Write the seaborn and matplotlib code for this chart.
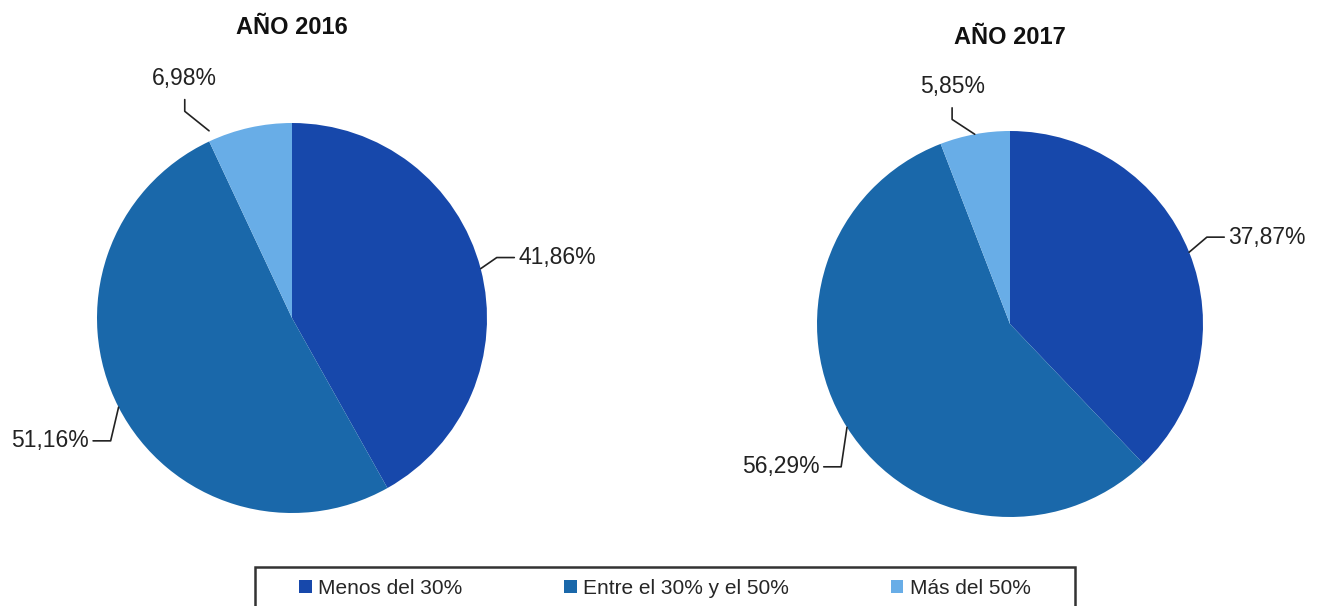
import numpy as np
import matplotlib
matplotlib.use("Agg")
import matplotlib.pyplot as plt
from matplotlib.patches import Patch, Rectangle
import seaborn as sns

# Data
categories = ["Menos del 30%", "Entre el 30% y el 50%", "Más del 50%"]
years = ["AÑO 2016", "AÑO 2017"]
values_2016 = [41.86, 51.16, 6.98]
values_2017 = [37.87, 56.29, 5.85]
colors = ["#1748AB", "#1A68AA", "#68ADE7"]

sns.set_theme(style="white")
plt.rcParams["font.family"] = ["Liberation Sans", "DejaVu Sans"]

W, H = 1325, 606
fig = plt.figure(figsize=(W / 100, H / 100), dpi=100)
fig.patch.set_facecolor("white")


def fmt(v):
    return f"{v:.2f}".replace(".", ",") + "%"


def pie_axes(cx, cy, r):
    ax = fig.add_axes([(cx - r) / W, (H - cy - r) / H, 2 * r / W, 2 * r / H])
    ax.axis("off")
    return ax


# label layout per wedge: (text x, text y, elbow style, anchor angle override)
layouts = [
    [(1.16, 0.31, "h", None), (-1.04, -0.63, "h", None), (-0.55, 1.23, "v", 113.9)],
    [(1.13, 0.45, "h", None), (-0.985, -0.74, "h", None), (-0.30, 1.23, "v", None)],
]
centers = [(292, 318, 195), (1010, 324, 193)]
titles_y = [27, 37]

for i, vals in enumerate([values_2016, values_2017]):
    cx, cy, r = centers[i]
    ax = pie_axes(cx, cy, r)
    wedges, _ = ax.pie(vals, colors=colors, startangle=90, counterclock=False,
                       radius=1, wedgeprops=dict(linewidth=0))
    ax.set_xlim(-1, 1)
    ax.set_ylim(-1, 1)
    for w, v, (tx, ty, style, anch) in zip(wedges, vals, layouts[i]):
        if anch is None:
            ang = np.deg2rad((w.theta1 + w.theta2) / 2)
            ex, ey = np.cos(ang), np.sin(ang)
        else:
            ang = np.deg2rad(anch)
            ex, ey = 1.05 * np.cos(ang), 1.05 * np.sin(ang)
        if style == "h":
            s = 1 if tx > 0 else -1
            pts = [(ex, ey), (tx - s * 0.11, ty), (tx - s * 0.02, ty)]
            ax.plot(*zip(*pts), color="#222222", lw=1.2, clip_on=False)
            ax.text(tx, ty, fmt(v), ha="left" if s > 0 else "right", va="center",
                    fontsize=16.5, color="#222222", clip_on=False)
        else:
            pts = [(ex, ey), (tx, ty - 0.17), (tx, ty - 0.11)]
            ax.plot(*zip(*pts), color="#222222", lw=1.2, clip_on=False)
            ax.text(tx, ty, fmt(v), ha="center", va="center",
                    fontsize=16.5, color="#222222", clip_on=False)
    fig.text(cx / W, 1 - titles_y[i] / H, years[i], ha="center", va="center",
             fontsize=17, fontweight="bold", color="#111111")

# legend frame and legend
fig.patches.append(Rectangle((255 / W, 1 - 612 / H), 820 / W, 45 / H,
                             transform=fig.transFigure, fill=False,
                             edgecolor="#333333", lw=1.8))
handles = [Patch(facecolor=c, edgecolor="none") for c in colors]
fig.legend(handles, categories, loc="center left",
           bbox_to_anchor=(299 / W, 1 - 588 / H), ncol=3, frameon=False,
           fontsize=15, handlelength=0.6, handleheight=0.6, handletextpad=0.3,
           columnspacing=4.9, borderpad=0, borderaxespad=0)

fig.savefig("out.png", dpi=100)
